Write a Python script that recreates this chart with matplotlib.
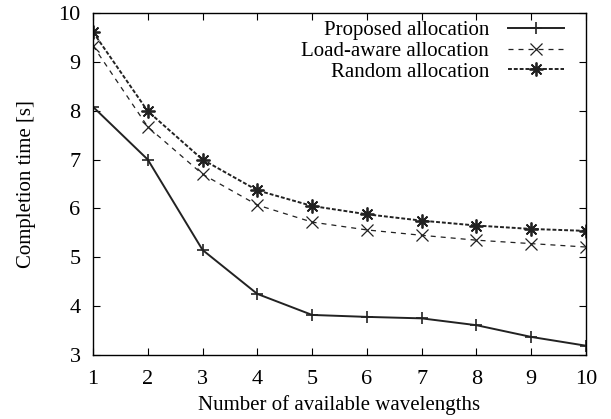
import matplotlib
matplotlib.use("Agg")
import matplotlib.pyplot as plt

plt.rcParams['font.family'] = ['Liberation Serif', 'DejaVu Serif']

# data
wavelengths = [1, 2, 3, 4, 5, 6, 7, 8, 9, 10]
proposed = [8.08, 7.00, 5.15, 4.25, 3.82, 3.78, 3.75, 3.61, 3.37, 3.19]
load_aware = [9.33, 7.67, 6.70, 6.07, 5.72, 5.56, 5.45, 5.35, 5.28, 5.21]
random_alloc = [9.61, 7.99, 7.00, 6.37, 6.05, 5.88, 5.75, 5.65, 5.58, 5.54]

fig = plt.figure(figsize=(6.11, 4.19), dpi=100)
ax = fig.add_axes([93 / 611, 1 - 355 / 419, (586 - 93) / 611, (355 - 13) / 419])

ax.plot(wavelengths, proposed, color='#222222', lw=1.4, marker='+', ms=9, mew=1.2,
        label='Proposed allocation')
ax.plot(wavelengths, load_aware, color='#222222', lw=0.9, ls=(0, (4, 4)), marker='x', ms=8,
        mew=0.9, label='Load-aware allocation')
ax.plot(wavelengths, random_alloc, color='#222222', lw=1.4, ls=(0, (2, 1)), marker=(8, 2, 0),
        ms=10, mew=1.3, label='Random allocation')

ax.set_xlim(1, 10)
ax.set_ylim(3, 10)
ax.set_xticks(wavelengths)
ax.set_yticks(range(3, 11))
ax.tick_params(direction='in', top=True, right=True, labelsize=16, length=5)
ax.tick_params(axis='x', pad=11)
ax.tick_params(axis='y', pad=9)
for s in ax.spines.values():
    s.set_linewidth(1.0)

ax.set_xlabel('Number of available wavelengths', fontsize=15, labelpad=4)
ax.set_ylabel('Completion time [s]', fontsize=15, labelpad=16)

leg = ax.legend(loc='upper right', bbox_to_anchor=(0.985, 1.02), frameon=False, markerfirst=False,
                fontsize=15, handlelength=2.7, handletextpad=0.9, labelspacing=0.05,
                borderaxespad=0.3)

fig.savefig('out.png', dpi=100)
